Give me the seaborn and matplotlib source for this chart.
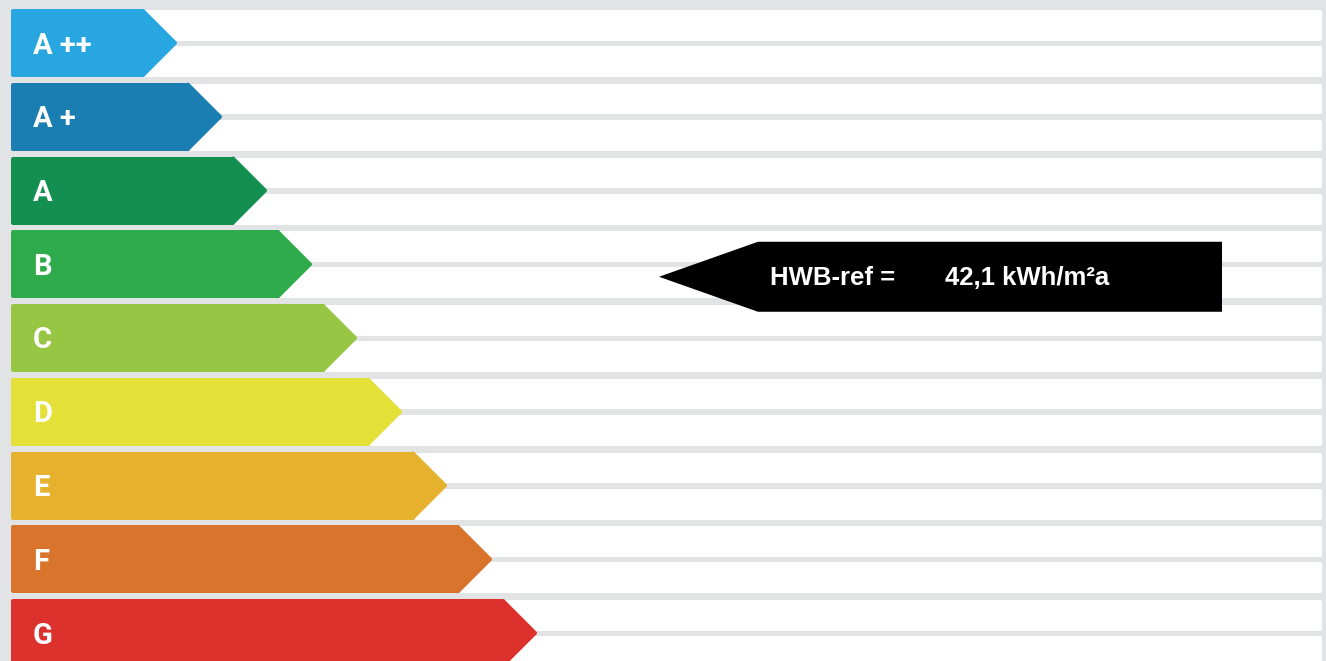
"""
Energy efficiency label (HWB-ref) drawn with seaborn / matplotlib.
"""

import numpy as np
import pandas as pd
import matplotlib
matplotlib.use("Agg")
import matplotlib.pyplot as plt
from matplotlib.patches import Polygon
import seaborn as sns

# Energy classes and their lower limits (HWB-ref in kWh/m²a)
classes = ["A ++", "A +", "A", "B", "C", "D", "E", "F", "G"]
class_limits = [0, 10, 15, 25, 50, 100, 150, 200, 250, 300]
class_colors = ["#27a6df", "#1b7eb2", "#13904f", "#2eac4b", "#97c544",
                "#e3e037", "#e6b22d", "#d9742c", "#dc312c"]

# Indicator
hwb_label = "HWB-ref ="
hwb_value = 42.1
hwb_unit = "kWh/m²a"

# Layout (pixels)
PX_W, PX_H = 1326, 661
ROW = 73.75          # row pitch
TOP = 9              # top of first class arrow
BAR_H = 68           # height of a class arrow
X0 = 11              # left edge of class arrows
TIP0, STEP = 177, 45 # tip of first arrow, increment per class
RND = 4              # corner rounding (edge line width)
BG = "#e2e3e5"

LW = RND * 72 / 100  # px -> pt


def px_y(rel):
    """pixel offset from row top -> row units"""
    return rel / ROW


def main():
    sns.set_theme(style="white")

    fig = plt.figure(figsize=(PX_W / 100, PX_H / 100), dpi=100)
    fig.patch.set_facecolor(BG)
    ax = fig.add_axes([0, 0, 1, 1])

    xo = X0 + RND / 2    # data x origin in pixels
    center0 = TOP + BAR_H / 2
    rows = np.arange(len(classes))
    half = BAR_H / 2 / ROW

    # white stripes, two per class row (hidden behind the arrows on the left)
    for off, h in [(1, 30.5), (37, 31)]:
        ax.barh(rows - half + px_y(off + RND / 2), width=1302 - RND, height=px_y(h - RND),
                left=20 + RND / 2 - xo, align="edge", color="white", edgecolor="white",
                linewidth=LW, joinstyle="round", zorder=1)
    n_stripes = len(ax.patches)

    # class arrow bodies
    tips = TIP0 + STEP * rows
    body_end = tips - BAR_H / 2
    df = pd.DataFrame({"row": rows, "length": body_end - xo, "cls": classes})
    sns.barplot(data=df, x="length", y="row", hue="cls", orient="h",
                palette=dict(zip(classes, class_colors)), native_scale=True,
                dodge=False, errorbar=None, legend=False, saturation=1,
                width=(BAR_H - RND) / ROW, ax=ax, zorder=3)
    for p in ax.patches[n_stripes:]:
        p.set_edgecolor(p.get_facecolor())
        p.set_linewidth(LW)
        p.set_joinstyle("round")

    # arrow tips and labels
    hh = (BAR_H - RND) / 2 / ROW
    for i, (cls, col) in enumerate(zip(classes, class_colors)):
        xb = body_end[i] - xo
        xt = xb + (BAR_H - RND) / 2
        ax.add_patch(Polygon([(xb - 12, i - hh), (xb, i - hh), (xt, i),
                              (xb, i + hh), (xb - 12, i + hh)], closed=True,
                             facecolor=col, edgecolor="none", zorder=3))
        ax.add_patch(Polygon([(xb, i - hh), (xt, i), (xb, i + hh)], closed=True,
                             facecolor="none", edgecolor=col, linewidth=LW,
                             joinstyle="round", zorder=3))
        ax.text(33 - xo, i + px_y(10.5), cls, color="white", fontsize=21,
                fontweight="bold", family=["Roboto", "DejaVu Sans"],
                ha="left", va="baseline", zorder=4)

    # HWB indicator, placed inside its class band
    idx = int(np.searchsorted(class_limits, hwb_value, side="right") - 1)
    frac = (hwb_value - class_limits[idx]) / (class_limits[idx + 1] - class_limits[idx])
    yc = idx - half + frac * BAR_H / ROW
    ih = 35 / ROW
    ax.add_patch(Polygon([(659 - xo, yc), (758 - xo, yc - ih), (1222 - xo, yc - ih),
                          (1222 - xo, yc + ih), (758 - xo, yc + ih)], closed=True,
                         facecolor="black", edgecolor="none", zorder=5))
    txt_kw = dict(color="white", fontsize=18.5, fontweight="bold",
                  family="Liberation Sans", ha="left", va="baseline", zorder=6)
    ax.text(770 - xo, yc + px_y(8.5), hwb_label, **txt_kw)
    ax.text(945 - xo, yc + px_y(8.5), f"{hwb_value:.1f}".replace(".", ",") + " " + hwb_unit,
            **txt_kw)

    ax.set_xlim(-xo, PX_W - xo)
    ax.set_ylim((PX_H - center0) / ROW, -center0 / ROW)
    ax.axis("off")

    fig.savefig("out.png", dpi=100, facecolor=fig.get_facecolor())
    plt.close(fig)


if __name__ == "__main__":
    main()
